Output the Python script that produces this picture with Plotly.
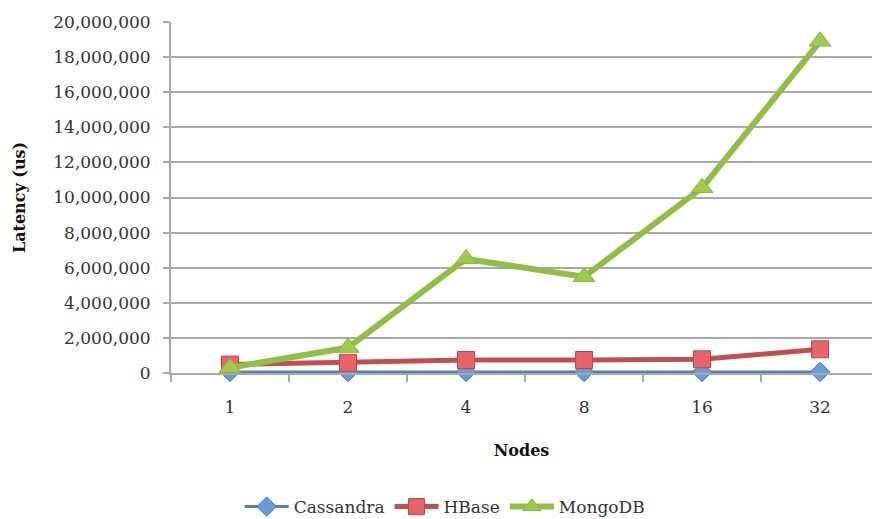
import plotly.graph_objects as go

# Cluster size and measured latency per database (microseconds)
nodes = ["1", "2", "4", "8", "16", "32"]
cassandra = [60000, 55000, 55000, 55000, 55000, 60000]
hbase = [480000, 580000, 740000, 740000, 780000, 1350000]
mongodb = [300000, 1450000, 6500000, 5480000, 10550000, 18900000]

y_ticks = list(range(0, 20000001, 2000000))

FONT = "DejaVu Serif"
TEXT = "#333333"
GRID = "#a8a8a8"

fig = go.Figure()

fig.add_trace(go.Scatter(
    x=nodes, y=cassandra, name="Cassandra", mode="lines+markers",
    line=dict(color="#4f81bd", width=3),
    marker=dict(symbol="diamond", size=15, color="#6b9ad8",
                line=dict(color="#4a7ab5", width=1)),
    cliponaxis=False,
))
fig.add_trace(go.Scatter(
    x=nodes, y=hbase, name="HBase", mode="lines+markers",
    line=dict(color="#c0504d", width=5),
    marker=dict(symbol="square", size=17, color="#e8646a",
                line=dict(color="#b8454a", width=1)),
    cliponaxis=False,
))
fig.add_trace(go.Scatter(
    x=nodes, y=mongodb, name="MongoDB", mode="lines+markers",
    line=dict(color="#8fc045", width=6),
    marker=dict(symbol="triangle-up", size=19, color="#9dcb4e",
                line=dict(color="#86b43c", width=1)),
    cliponaxis=False,
))

fig.update_layout(
    width=872, height=519,
    margin=dict(l=171, r=0, t=22, b=146),
    paper_bgcolor="white", plot_bgcolor="white",
    font=dict(family=FONT, size=17, color=TEXT),
    showlegend=True,
    legend=dict(
        orientation="h", xref="container", yref="container",
        x=0.51, xanchor="center", y=0.023, yanchor="middle",
        font=dict(family=FONT, size=17, color=TEXT),
        itemwidth=44, tracegroupgap=0,
    ),
    xaxis=dict(
        type="category", categoryorder="array", categoryarray=nodes,
        range=[-0.5, 5.44],
        showgrid=False, zeroline=False,
        showline=True, linecolor=GRID, linewidth=2,
        ticks="outside", tickson="boundaries", ticklen=7,
        tickcolor=GRID, tickwidth=1.5,
        ticklabelstandoff=18,
        tickfont=dict(family=FONT, size=17, color=TEXT),
        title=dict(text="<b>Nodes</b>", standoff=28,
                   font=dict(family=FONT, size=16, color="#111111")),
    ),
    yaxis=dict(
        range=[0, 20000000],
        tickvals=y_ticks, tickformat=",d",
        showgrid=True, gridcolor=GRID, gridwidth=2,
        zeroline=False,
        showline=True, linecolor=GRID, linewidth=2,
        ticks="outside", ticklen=6, tickcolor=GRID, tickwidth=1.5,
        ticklabelstandoff=9,
        tickfont=dict(family=FONT, size=17, color=TEXT),
        title=dict(text="<b>Latency (us)</b>", standoff=24,
                   font=dict(family=FONT, size=16, color="#111111")),
    ),
)

fig.write_html("out.html")
